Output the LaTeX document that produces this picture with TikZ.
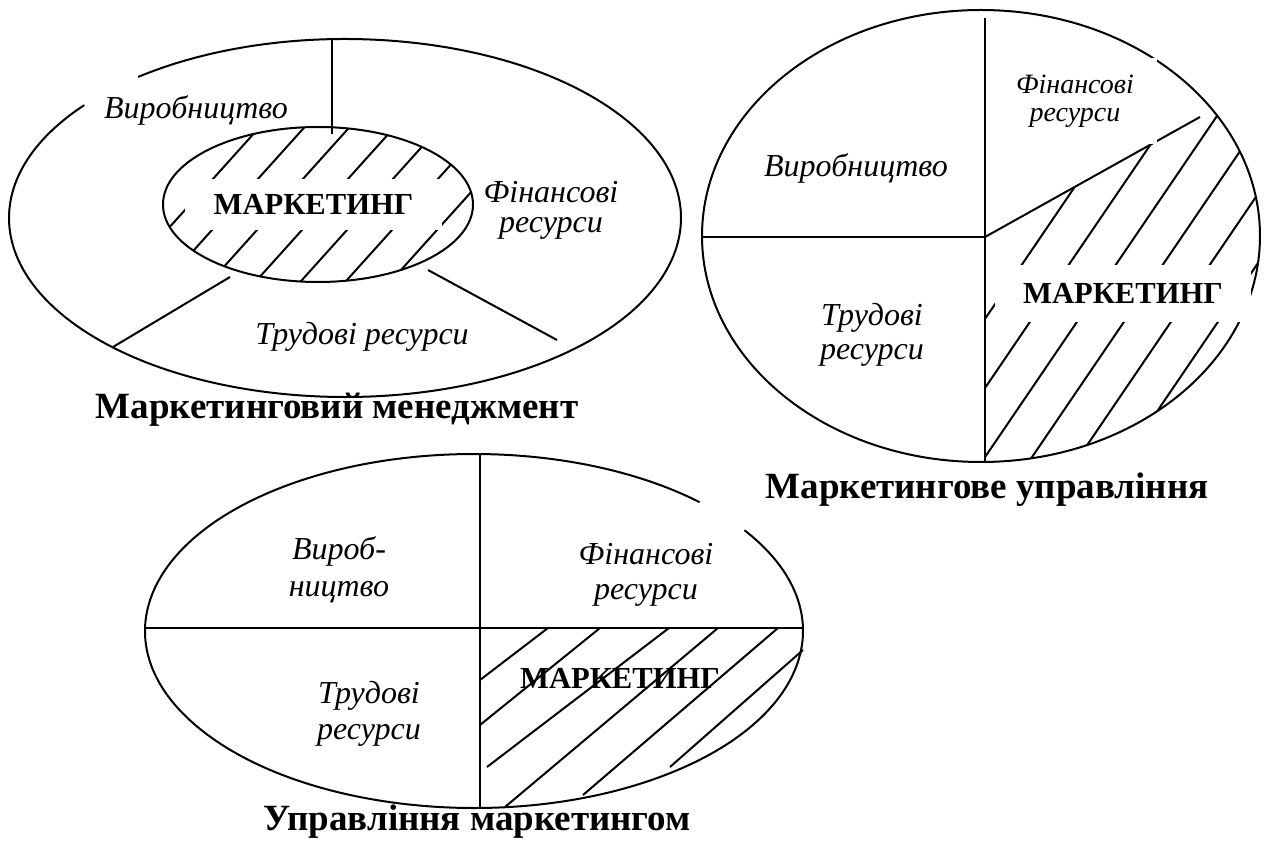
\documentclass[tikz,border=0pt]{standalone}
\usepackage{fontspec}
\setmainfont{Liberation Serif}
\newcommand\pxu{0.5pt}
\newcommand\itf[2]{\fontsize{#1}{#2}\selectfont\itshape}
\begin{document}
\begin{tikzpicture}[x=0.5pt,y=-0.5pt,
  outline/.style={line width=1pt},
  hatchline/.style={line width=1pt},
  lbl/.style={align=center, inner sep=0pt},
  mk/.style={font=\fontsize{15.3}{18}\selectfont\bfseries, inner sep=0pt},
  ttl/.style={font=\fontsize{18.5}{22}\selectfont\bfseries, inner sep=0pt}]
\useasboundingbox (0,0) rectangle (1266,845);

% ---------- Маркетинговий менеджмент ----------
\coordinate (o1) at (345,218);
\coordinate (i1) at (318,204.5);
\draw[outline] ([shift={(232:336 and 179)}]o1)
  arc [start angle=232, end angle=579.1, x radius=336, y radius=179];
\begin{scope}
  \clip (i1) ellipse [x radius=155, y radius=77.5];
  \foreach \k in {-6,...,8}
    \draw[hatchline] (212+45*\k-180,430) -- (212+45*\k+180,30);
\end{scope}
\draw[outline] (i1) ellipse [x radius=155, y radius=77.5];
\node[mk, fill=white, minimum width=257*\pxu, minimum height=51*\pxu] (mk1) at (313.5,204.5) {МАРКЕТИНГ};
\coordinate (v1t) at (332,39);
\coordinate (v1b) at (332,134);
\draw[outline] (v1t) -- (v1b);
\coordinate (l1a) at (230,277); \coordinate (l1b) at (113,347);
\coordinate (r1a) at (428,270); \coordinate (r1b) at (557,340);
\draw[outline] (l1a) -- (l1b);
\draw[outline] (r1a) -- (r1b);
\node[lbl, font=\itf{16}{19}] (vyr1) at (196,110) {Виробництво};
\node[lbl, font=\itf{16}{15}] (fin1) at (551,210) {Фінансові\\ресурси};
\node[lbl, font=\itf{16}{19}] (tr1) at (362,337) {Трудові ресурси};
\node[ttl] (t1) at (337,410) {Маркетинговий менеджмент};

% ---------- Маркетингове управління ----------
\coordinate (o2) at (981,236);
\coordinate (c2) at (985,237);
\coordinate (v2t) at (985,18);
\coordinate (v2b) at (985,463);
\coordinate (h2l) at (702,237);
\coordinate (d2e) at (1200,117);
\draw[outline] (o2) ellipse [x radius=279, y radius=226];
\begin{scope}
  \clip (o2) ellipse [x radius=279, y radius=226];
  \clip (c2) -- (1400,5.4) -- (1400,700) -- (985,700) -- cycle;
  \foreach \k in {0,...,6}
    \draw[hatchline] (1023+47*\k-204,563) -- (1023+47*\k+204,-37);
\end{scope}
\draw[outline] (v2t) -- (v2b);
\draw[outline] (h2l) -- (c2);
\draw[outline] (c2) -- (d2e);
\node[lbl, fill=white, font=\itf{14}{13.8}, minimum width=164*\pxu, minimum height=86*\pxu] (fin2) at (1075,101) {Фінансові\\ресурси};
\node[mk, fill=white, minimum width=256*\pxu, minimum height=57*\pxu] (mk2) at (1123,293.5) {МАРКЕТИНГ};
\node[lbl, font=\itf{16}{19}] (vyr2) at (856,168) {Виробництво};
\node[lbl, font=\itf{16}{17}] (tr2) at (872,335) {Трудові\\ресурси};
\node[ttl] (t2) at (987,490) {Маркетингове управління};

% ---------- Управління маркетингом ----------
\coordinate (o3) at (474,631);
\coordinate (h3l) at (145,628);
\coordinate (h3r) at (803,628);
\coordinate (v3t) at (480,454);
\coordinate (v3b) at (480,808);
\draw[outline] ([shift={(-34.7:329 and 177)}]o3)
  arc [start angle=-34.7, end angle=313.3, x radius=329, y radius=177];
\draw[outline] (h3l) -- (h3r);
\draw[outline] (v3t) -- (v3b);
\foreach \ax/\ay/\bx/\by in {480/680/548/628, 480/725/600/628, 487/767/669/628,
    505/807/718/628, 583/795/778/628, 670/767/803/650}
  \draw[hatchline] (\ax,\ay) -- (\bx,\by);
\node[lbl, font=\itf{16}{18.5}] (vyr3) at (339,570) {Вироб-\\ництво};
\node[lbl, font=\itf{16}{17.5}] (fin3) at (646,575) {Фінансові\\ресурси};
\node[lbl, font=\itf{16}{18}] (tr3) at (369,714) {Трудові\\ресурси};
\node[mk] (mk3) at (620,678) {МАРКЕТИНГ};
\node[ttl] (t3) at (477,822) {Управління маркетингом};
\end{tikzpicture}
\end{document}
